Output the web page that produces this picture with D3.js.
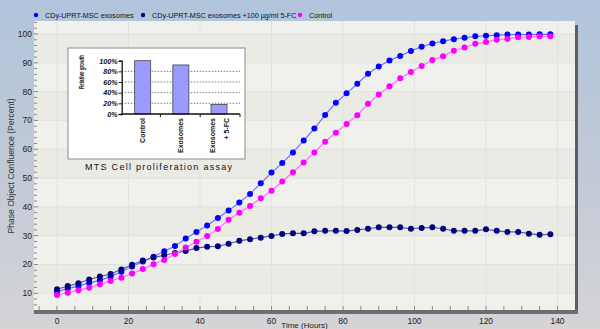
<!DOCTYPE html>
<html>
<head>
<meta charset="utf-8">
<script src="https://cdn.jsdelivr.net/npm/d3@7"></script>
<style>
  html, body { margin: 0; padding: 0; }
  #chart { width: 600px; height: 329px; }
  text { font-family: "Liberation Sans", Arial, sans-serif; }
</style>
</head>
<body>
<div id="chart"></div>
<script>
// time points (hours)
const times = [0, 3, 6, 9, 12, 15, 18, 21, 24, 27, 30, 33, 36, 39, 42, 45, 48, 51, 54, 57,
  60, 63, 66, 69, 72, 75, 78, 81, 84, 87, 90, 93, 96, 99, 102, 105, 108, 111, 114, 117,
  120, 123, 126, 129, 132, 135, 138];
const exosomes = [10.6, 11.6, 12.5, 13.6, 14.5, 15.8, 17.5, 19.3, 21.0, 22.7, 24.6, 26.4,
  29.0, 31.3, 33.5, 36.1, 38.7, 41.5, 44.5, 48.2, 51.9, 55.2, 58.9, 63.0, 67.2, 71.9, 76.1,
  79.4, 82.7, 86.2, 88.7, 90.8, 92.4, 94.1, 95.6, 96.7, 97.5, 98.2, 98.7, 99.2, 99.4, 99.6,
  99.8, 99.8, 99.8, 99.9, 99.9];
const exosomes5FC = [11.4, 12.5, 13.5, 14.8, 15.8, 16.7, 18.3, 19.9, 21.4, 22.4, 23.2, 24.0,
  24.7, 25.7, 26.2, 26.3, 27.2, 28.2, 28.8, 29.3, 29.9, 30.6, 30.8, 30.8, 31.5, 31.7, 31.7,
  31.6, 32.0, 32.4, 32.9, 32.9, 32.9, 32.4, 32.7, 32.9, 32.4, 31.7, 31.7, 31.7, 32.2, 31.7,
  31.3, 31.3, 30.7, 30.3, 30.5];
const control = [9.4, 10.2, 11.1, 11.9, 13.1, 14.3, 15.4, 16.9, 18.4, 20.1, 21.6, 23.6, 25.9,
  27.9, 29.9, 32.3, 35.5, 38.0, 40.3, 43.0, 45.6, 48.8, 52.0, 55.4, 58.9, 62.6, 65.7, 68.8,
  71.8, 75.8, 79.0, 81.9, 84.6, 86.8, 88.9, 91.0, 92.3, 94.2, 95.3, 96.6, 97.2, 98.0, 98.3,
  98.9, 99.0, 99.2, 99.2];
const seriesNames = ["CDy-UPRT-MSC exosomes", "CDy-UPRT-MSC exosomes +100 µg/ml 5-FC", "Control"];
const xTicks = [0, 20, 40, 60, 80, 100, 120, 140];
const yTicks = [10, 20, 30, 40, 50, 60, 70, 80, 90, 100];

// inset (MTS assay)
const insetCategories = [["Control"], ["Exosomes"], ["Exosomes", "+ 5-FC"]];
const insetValues = [100, 92, 18];
const insetTicks = [0, 20, 40, 60, 80, 100];

const theme = {
  blue: "#0000ff", blueLine: "#7070ff",
  navy: "#000080", navyLine: "#5a5aa0",
  pink: "#ff00ff", pinkLine: "#ff70ff",
};

const width = 600, height = 329;
const plot = { left: 34, right: 575, top: 21, bottom: 310 };

const svg = d3.select("#chart").append("svg")
  .attr("width", width).attr("height", height);

const defs = svg.append("defs");
const bg = defs.append("linearGradient").attr("id", "bg")
  .attr("x1", 0).attr("y1", 0).attr("x2", 0).attr("y2", 1);
bg.append("stop").attr("offset", "0%").attr("stop-color", "#b1c4dc");
bg.append("stop").attr("offset", "55%").attr("stop-color", "#c3cad6");
bg.append("stop").attr("offset", "100%").attr("stop-color", "#d4d4d6");
svg.append("rect").attr("width", width).attr("height", height).attr("fill", "url(#bg)");

const xScale = d3.scaleLinear().domain([0, 140]).range([57, 557.5]);
const yScale = d3.scaleLinear().domain([10, 100]).range([293.3, 34]);

// plot area + bands
svg.append("rect")
  .attr("x", plot.left).attr("y", plot.top)
  .attr("width", plot.right - plot.left).attr("height", plot.bottom - plot.top)
  .attr("fill", "#f0f0ec");

const bandEdges = [plot.top, ...yTicks.slice().reverse().map(yScale), plot.bottom];
svg.append("g").selectAll("rect")
  .data(d3.pairs(bandEdges))
  .join("rect")
  .attr("x", plot.left).attr("width", plot.right - plot.left)
  .attr("y", (d) => d[0]).attr("height", (d) => d[1] - d[0])
  .attr("fill", (d, i) => (i % 2 ? "#ebebe6" : "#f0f0ec"));

svg.append("g").selectAll("line")
  .data(yTicks)
  .join("line")
  .attr("x1", plot.left).attr("x2", plot.right)
  .attr("y1", (d) => yScale(d)).attr("y2", (d) => yScale(d))
  .attr("stroke", "#e2e2dd");

svg.append("g").selectAll("line")
  .data(xTicks)
  .join("line")
  .attr("x1", (d) => xScale(d)).attr("x2", (d) => xScale(d))
  .attr("y1", plot.top).attr("y2", plot.bottom)
  .attr("stroke", "#e3e3de");

// shadow edges
svg.append("rect").attr("x", plot.right).attr("y", plot.top + 4)
  .attr("width", 3).attr("height", plot.bottom - plot.top).attr("fill", "#5e5e62");
svg.append("rect").attr("x", plot.left).attr("y", plot.bottom)
  .attr("width", plot.right - plot.left + 3).attr("height", 4).attr("fill", "#6e6e6e");

// y axis: minor ticks every 2, labels every 10
svg.append("g").selectAll("line")
  .data(d3.range(6, 105, 2))
  .join("line")
  .attr("x1", plot.left).attr("x2", (d) => plot.left + (d % 10 === 0 ? 4 : 3))
  .attr("y1", (d) => yScale(d)).attr("y2", (d) => yScale(d))
  .attr("stroke", "#8a8a8a");

svg.append("g").selectAll("text")
  .data(yTicks)
  .join("text")
  .attr("x", 32).attr("y", (d) => yScale(d) + 3)
  .attr("text-anchor", "end")
  .attr("font-size", 8.5).attr("fill", "#222")
  .text((d) => d);

svg.append("text")
  .attr("transform", "translate(14, 166) rotate(-90)")
  .attr("text-anchor", "middle")
  .attr("font-size", 8.6).attr("fill", "#333")
  .text("Phase Object Confluence (Percent)");

// x axis: minor ticks every 5
svg.append("g").selectAll("line")
  .data(d3.range(-5, 145, 5))
  .join("line")
  .attr("x1", (d) => xScale(d)).attr("x2", (d) => xScale(d))
  .attr("y1", plot.bottom - 4).attr("y2", plot.bottom)
  .attr("stroke", "#8a8a8a");

svg.append("g").selectAll("text")
  .data(xTicks)
  .join("text")
  .attr("x", (d) => xScale(d)).attr("y", 324)
  .attr("text-anchor", "middle")
  .attr("font-size", 8.5).attr("fill", "#222")
  .text((d) => d);

svg.append("text")
  .attr("x", (plot.left + plot.right) / 2).attr("y", 328)
  .attr("text-anchor", "middle")
  .attr("font-size", 8).attr("fill", "#222")
  .text("Time (Hours)");

// series
const series = [
  { name: seriesNames[0], values: exosomes, color: theme.blue, line: theme.blueLine },
  { name: seriesNames[1], values: exosomes5FC, color: theme.navy, line: theme.navyLine },
  { name: seriesNames[2], values: control, color: theme.pink, line: theme.pinkLine },
];

const line = d3.line().x((d) => xScale(d[0])).y((d) => yScale(d[1]));

series.forEach((s) => {
  const pts = times.map((t, i) => [t, s.values[i]]);
  const g = svg.append("g");
  g.append("path").datum(pts)
    .attr("d", line).attr("fill", "none")
    .attr("stroke", s.line).attr("stroke-width", 1.2);
  g.selectAll("circle").data(pts).join("circle")
    .attr("cx", (d) => xScale(d[0])).attr("cy", (d) => yScale(d[1]))
    .attr("r", 3).attr("fill", s.color);
});

// legend
const legendX = [36, 143, 300];
const legend = svg.append("g").selectAll("g")
  .data(series)
  .join("g")
  .attr("transform", (d, i) => `translate(${legendX[i]}, 15)`);
legend.append("circle").attr("r", 2.2).attr("fill", (d) => d.color);
legend.append("text")
  .attr("x", 9).attr("y", 2.6)
  .attr("font-size", 7.2).attr("fill", "#111")
  .text((d) => d.name);

// inset
const inset = { x: 68, y: 48, w: 177, h: 111 };
svg.append("rect")
  .attr("x", inset.x).attr("y", inset.y).attr("width", inset.w).attr("height", inset.h)
  .attr("fill", "#ffffff").attr("stroke", "#8c8c8c");

const ix = d3.scaleBand().domain(insetCategories.map((d) => d.join(" ")))
  .range([121.7, 240]).paddingInner(0.58).paddingOuter(0.34);
const iy = d3.scaleLinear().domain([0, 100]).range([114, 60.7]);

svg.append("g").selectAll("line")
  .data(insetTicks.slice(1, -1))
  .join("line")
  .attr("x1", 121.7).attr("x2", 240)
  .attr("y1", (d) => iy(d)).attr("y2", (d) => iy(d))
  .attr("stroke", "#444").attr("stroke-dasharray", "1.5,1.5").attr("stroke-width", 0.7);

svg.append("g").selectAll("rect")
  .data(insetValues)
  .join("rect")
  .attr("x", (d, i) => ix(insetCategories[i].join(" ")))
  .attr("width", ix.bandwidth())
  .attr("y", (d) => iy(d))
  .attr("height", (d) => iy(0) - iy(d))
  .attr("fill", "#9a9aff").attr("stroke", "#333").attr("stroke-width", 0.7);

const iAxisY = svg.append("g").attr("transform", "translate(121.7,0)")
  .call(d3.axisLeft(iy).tickValues(insetTicks).tickSize(3).tickFormat((d) => d + "%"));
iAxisY.select(".domain").attr("stroke", "#111").attr("stroke-width", 1.3);
iAxisY.selectAll("line").attr("stroke", "#111");
iAxisY.selectAll("text")
  .attr("font-size", 7.2).attr("font-weight", "bold").attr("font-style", "italic")
  .attr("font-family", "'Liberation Sans', Arial, sans-serif").attr("fill", "#111")
  .attr("x", -4);

const iAxisX = svg.append("g").attr("transform", `translate(0,${iy(0)})`);
iAxisX.append("line").attr("x1", 121.7).attr("x2", 240).attr("stroke", "#111").attr("stroke-width", 1.3);
iAxisX.selectAll(".sep").data([160.4, 200.2, 240]).join("line")
  .attr("x1", (d) => d).attr("x2", (d) => d).attr("y1", 0).attr("y2", 3)
  .attr("stroke", "#111");

insetCategories.forEach((lines, i) => {
  const cx = ix(lines.join(" ")) + ix.bandwidth() / 2;
  lines.forEach((ln, j) => {
    const off = (j - (lines.length - 1) / 2) * 14;
    svg.append("text")
      .attr("transform", `translate(${cx + off + 2.5}, ${iy(0) + 4}) rotate(-90)`)
      .attr("text-anchor", "end")
      .attr("font-size", 7).attr("font-weight", "bold").attr("fill", "#111")
      .text(ln);
  });
});

svg.append("text")
  .attr("transform", "translate(84, 72) rotate(-90)")
  .attr("text-anchor", "middle")
  .attr("font-size", 6.8).attr("font-weight", "bold").attr("fill", "#111")
  .attr("textLength", 34).attr("lengthAdjust", "spacingAndGlyphs")
  .text("Relative growth");

svg.append("text")
  .attr("x", 85).attr("y", 169.5)
  .attr("font-size", 9).attr("fill", "#111")
  .attr("textLength", 147).attr("lengthAdjust", "spacing")
  .text("MTS Cell proliferation assay");
</script>
</body>
</html>
